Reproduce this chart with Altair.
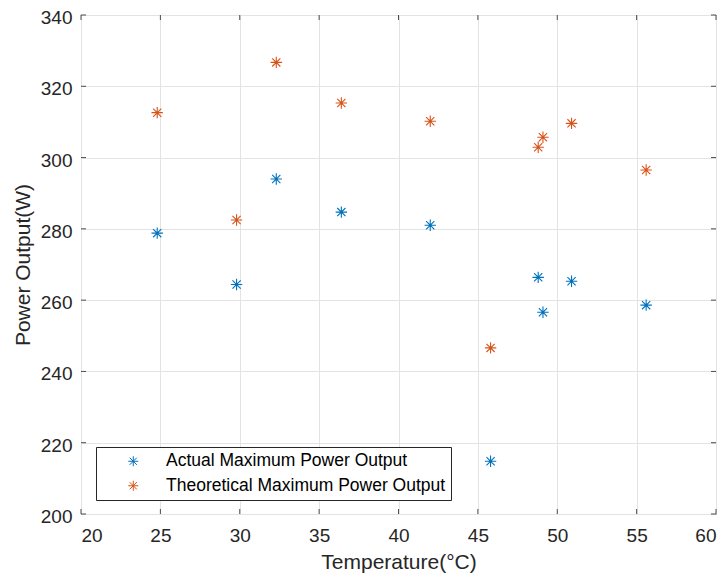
import altair as alt
import pandas as pd

# ---- data ----
temperature = [24.8, 29.8, 32.3, 36.4, 42.0, 48.8, 49.1, 50.9, 55.6, 45.8]
actual_power = [278.8, 264.4, 294.0, 284.7, 281.0, 266.4, 256.6, 265.3, 258.6, 214.8]
theoretical_power = [312.6, 282.5, 326.7, 315.3, 310.2, 302.9, 305.7, 309.6, 296.5, 246.6]
series_names = ["Actual Maximum Power Output", "Theoretical Maximum Power Output"]
series_colors = ["#0072BD", "#D95319"]
x_ticks = [20, 25, 30, 35, 40, 45, 50, 55, 60]
y_ticks = [200, 220, 240, 260, 280, 300, 320, 340]

ASTERISK = "M-1,0L1,0M0,-1L0,1M-0.72,-0.72L0.72,0.72M-0.72,0.72L0.72,-0.72"
W, H = 635, 499
FONT = "Liberation Sans"
INK = "#262626"

df = pd.DataFrame({
    "Temperature": temperature + temperature,
    "Power": actual_power + theoretical_power,
    "Series": [series_names[0]] * len(temperature) + [series_names[1]] * len(temperature),
})
xt = pd.DataFrame({"Temperature": x_ticks})
yt = pd.DataFrame({"Power": y_ticks})

x_scale = alt.Scale(domain=[20, 60], nice=False, zero=False)
y_scale = alt.Scale(domain=[200, 340], nice=False, zero=False)
x_axis = alt.Axis(values=x_ticks, title="Temperature(°C)", labelPadding=12, titlePadding=6)
y_axis = alt.Axis(values=y_ticks, title="Power Output(W)", labelPadding=9, titlePadding=7,
                  labelOffset=2.5)

X = alt.X("Temperature:Q", scale=x_scale, axis=x_axis)
Y = alt.Y("Power:Q", scale=y_scale, axis=y_axis)

points = alt.Chart(df).mark_point(
    shape=ASTERISK, filled=False, size=130, strokeWidth=1.1, opacity=1
).encode(
    x=X,
    y=Y,
    color=alt.Color(
        "Series:N",
        sort=series_names,
        scale=alt.Scale(domain=series_names, range=series_colors),
        legend=alt.Legend(
            title=None, orient="none", legendX=15, legendY=432,
            padding=5.5, symbolType=ASTERISK, symbolSize=100, symbolStrokeWidth=1,
            symbolOffset=23, labelOffset=24, labelFont=FONT, labelFontSize=17.5,
            labelColor="#000000", rowPadding=5.5, strokeColor=INK, fillColor="white",
            labelLimit=400, cornerRadius=0,
        ),
    ),
)

tick_color = "#4d4d4d"
top_ticks = alt.Chart(xt).mark_rule(color=tick_color, strokeWidth=1).encode(
    x=X, y=alt.value(0), y2=alt.value(5))
bottom_ticks = alt.Chart(xt).mark_rule(color=tick_color, strokeWidth=1).encode(
    x=X, y=alt.value(H), y2=alt.value(H - 5))
left_ticks = alt.Chart(yt).mark_rule(color=tick_color, strokeWidth=1).encode(
    y=Y, x=alt.value(0), x2=alt.value(5))
right_ticks = alt.Chart(yt).mark_rule(color=tick_color, strokeWidth=1).encode(
    y=Y, x=alt.value(W), x2=alt.value(W - 5))

chart = alt.layer(top_ticks, bottom_ticks, left_ticks, right_ticks, points).properties(
    width=W, height=H,
    autosize=alt.AutoSizeParams(type="none"),
    padding={"left": 73, "top": 7, "right": 4, "bottom": 64},
    background="white",
).configure_view(
    stroke=INK, strokeWidth=1
).configure_axis(
    domain=False, ticks=False, grid=True, gridColor="#e3e3e3", gridWidth=1,
    labelFont=FONT, labelFontSize=19, labelColor=INK,
    titleFont=FONT, titleFontSize=21, titleFontWeight="normal", titleColor=INK,
)

chart.save("out.html", embed_options={"renderer": "svg", "actions": False})
